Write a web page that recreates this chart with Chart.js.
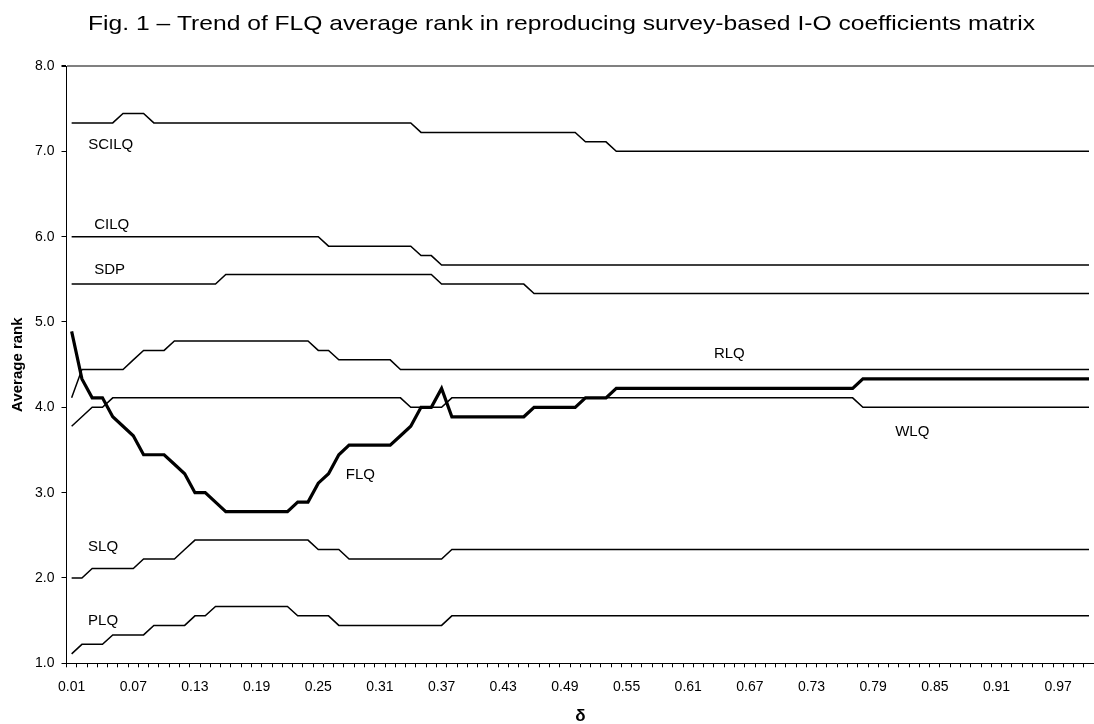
<!DOCTYPE html>
<html>
<head>
<meta charset="utf-8">
<script src="https://cdn.jsdelivr.net/npm/chart.js@4/dist/chart.umd.min.js"></script>
<style>
  html, body { margin: 0; padding: 0; background: #fff; overflow: hidden; }
  #wrap { width: 1100px; height: 724px; position: relative; }
</style>
</head>
<body>
<div id="wrap"><canvas id="c"></canvas></div>
<script>
const chartTitle = 'Fig. 1 \u2013 Trend of FLQ average rank in reproducing survey-based I-O coefficients matrix';

const categories = [
  '0.01','0.02','0.03','0.04','0.05','0.06','0.07','0.08','0.09','0.10',
  '0.11','0.12','0.13','0.14','0.15','0.16','0.17','0.18','0.19','0.20',
  '0.21','0.22','0.23','0.24','0.25','0.26','0.27','0.28','0.29','0.30',
  '0.31','0.32','0.33','0.34','0.35','0.36','0.37','0.38','0.39','0.40',
  '0.41','0.42','0.43','0.44','0.45','0.46','0.47','0.48','0.49','0.50',
  '0.51','0.52','0.53','0.54','0.55','0.56','0.57','0.58','0.59','0.60',
  '0.61','0.62','0.63','0.64','0.65','0.66','0.67','0.68','0.69','0.70',
  '0.71','0.72','0.73','0.74','0.75','0.76','0.77','0.78','0.79','0.80',
  '0.81','0.82','0.83','0.84','0.85','0.86','0.87','0.88','0.89','0.90',
  '0.91','0.92','0.93','0.94','0.95','0.96','0.97','0.98','0.99','1.00'
];

const xTickLabels = ['0.01','0.07','0.13','0.19','0.25','0.31','0.37','0.43','0.49','0.55','0.61','0.67','0.73','0.79','0.85','0.91','0.97'];
const yTickValues = [1, 2, 3, 4, 5, 6, 7, 8];

const SCILQ = [
  7.333,7.333,7.333,7.333,7.333,7.444,7.444,7.444,7.333,7.333,
  7.333,7.333,7.333,7.333,7.333,7.333,7.333,7.333,7.333,7.333,
  7.333,7.333,7.333,7.333,7.333,7.333,7.333,7.333,7.333,7.333,
  7.333,7.333,7.333,7.333,7.222,7.222,7.222,7.222,7.222,7.222,
  7.222,7.222,7.222,7.222,7.222,7.222,7.222,7.222,7.222,7.222,
  7.111,7.111,7.111,7.000,7.000,7.000,7.000,7.000,7.000,7.000,
  7.000,7.000,7.000,7.000,7.000,7.000,7.000,7.000,7.000,7.000,
  7.000,7.000,7.000,7.000,7.000,7.000,7.000,7.000,7.000,7.000,
  7.000,7.000,7.000,7.000,7.000,7.000,7.000,7.000,7.000,7.000,
  7.000,7.000,7.000,7.000,7.000,7.000,7.000,7.000,7.000,7.000
];

const CILQ = [
  6.000,6.000,6.000,6.000,6.000,6.000,6.000,6.000,6.000,6.000,
  6.000,6.000,6.000,6.000,6.000,6.000,6.000,6.000,6.000,6.000,
  6.000,6.000,6.000,6.000,6.000,5.889,5.889,5.889,5.889,5.889,
  5.889,5.889,5.889,5.889,5.778,5.778,5.667,5.667,5.667,5.667,
  5.667,5.667,5.667,5.667,5.667,5.667,5.667,5.667,5.667,5.667,
  5.667,5.667,5.667,5.667,5.667,5.667,5.667,5.667,5.667,5.667,
  5.667,5.667,5.667,5.667,5.667,5.667,5.667,5.667,5.667,5.667,
  5.667,5.667,5.667,5.667,5.667,5.667,5.667,5.667,5.667,5.667,
  5.667,5.667,5.667,5.667,5.667,5.667,5.667,5.667,5.667,5.667,
  5.667,5.667,5.667,5.667,5.667,5.667,5.667,5.667,5.667,5.667
];

const SDP = [
  5.444,5.444,5.444,5.444,5.444,5.444,5.444,5.444,5.444,5.444,
  5.444,5.444,5.444,5.444,5.444,5.556,5.556,5.556,5.556,5.556,
  5.556,5.556,5.556,5.556,5.556,5.556,5.556,5.556,5.556,5.556,
  5.556,5.556,5.556,5.556,5.556,5.556,5.444,5.444,5.444,5.444,
  5.444,5.444,5.444,5.444,5.444,5.333,5.333,5.333,5.333,5.333,
  5.333,5.333,5.333,5.333,5.333,5.333,5.333,5.333,5.333,5.333,
  5.333,5.333,5.333,5.333,5.333,5.333,5.333,5.333,5.333,5.333,
  5.333,5.333,5.333,5.333,5.333,5.333,5.333,5.333,5.333,5.333,
  5.333,5.333,5.333,5.333,5.333,5.333,5.333,5.333,5.333,5.333,
  5.333,5.333,5.333,5.333,5.333,5.333,5.333,5.333,5.333,5.333
];

const RLQ = [
  4.111,4.444,4.444,4.444,4.444,4.444,4.556,4.667,4.667,4.667,
  4.778,4.778,4.778,4.778,4.778,4.778,4.778,4.778,4.778,4.778,
  4.778,4.778,4.778,4.778,4.667,4.667,4.556,4.556,4.556,4.556,
  4.556,4.556,4.444,4.444,4.444,4.444,4.444,4.444,4.444,4.444,
  4.444,4.444,4.444,4.444,4.444,4.444,4.444,4.444,4.444,4.444,
  4.444,4.444,4.444,4.444,4.444,4.444,4.444,4.444,4.444,4.444,
  4.444,4.444,4.444,4.444,4.444,4.444,4.444,4.444,4.444,4.444,
  4.444,4.444,4.444,4.444,4.444,4.444,4.444,4.444,4.444,4.444,
  4.444,4.444,4.444,4.444,4.444,4.444,4.444,4.444,4.444,4.444,
  4.444,4.444,4.444,4.444,4.444,4.444,4.444,4.444,4.444,4.444
];

const WLQ = [
  3.778,3.889,4.000,4.000,4.111,4.111,4.111,4.111,4.111,4.111,
  4.111,4.111,4.111,4.111,4.111,4.111,4.111,4.111,4.111,4.111,
  4.111,4.111,4.111,4.111,4.111,4.111,4.111,4.111,4.111,4.111,
  4.111,4.111,4.111,4.000,4.000,4.000,4.000,4.111,4.111,4.111,
  4.111,4.111,4.111,4.111,4.111,4.111,4.111,4.111,4.111,4.111,
  4.111,4.111,4.111,4.111,4.111,4.111,4.111,4.111,4.111,4.111,
  4.111,4.111,4.111,4.111,4.111,4.111,4.111,4.111,4.111,4.111,
  4.111,4.111,4.111,4.111,4.111,4.111,4.111,4.000,4.000,4.000,
  4.000,4.000,4.000,4.000,4.000,4.000,4.000,4.000,4.000,4.000,
  4.000,4.000,4.000,4.000,4.000,4.000,4.000,4.000,4.000,4.000
];

const FLQ = [
  4.889,4.333,4.111,4.111,3.889,3.778,3.667,3.444,3.444,3.444,
  3.333,3.222,3.000,3.000,2.889,2.778,2.778,2.778,2.778,2.778,
  2.778,2.778,2.889,2.889,3.111,3.222,3.444,3.556,3.556,3.556,
  3.556,3.556,3.667,3.778,4.000,4.000,4.222,3.889,3.889,3.889,
  3.889,3.889,3.889,3.889,3.889,4.000,4.000,4.000,4.000,4.000,
  4.111,4.111,4.111,4.222,4.222,4.222,4.222,4.222,4.222,4.222,
  4.222,4.222,4.222,4.222,4.222,4.222,4.222,4.222,4.222,4.222,
  4.222,4.222,4.222,4.222,4.222,4.222,4.222,4.333,4.333,4.333,
  4.333,4.333,4.333,4.333,4.333,4.333,4.333,4.333,4.333,4.333,
  4.333,4.333,4.333,4.333,4.333,4.333,4.333,4.333,4.333,4.333
];

const SLQ = [
  2.000,2.000,2.111,2.111,2.111,2.111,2.111,2.222,2.222,2.222,
  2.222,2.333,2.444,2.444,2.444,2.444,2.444,2.444,2.444,2.444,
  2.444,2.444,2.444,2.444,2.333,2.333,2.333,2.222,2.222,2.222,
  2.222,2.222,2.222,2.222,2.222,2.222,2.222,2.333,2.333,2.333,
  2.333,2.333,2.333,2.333,2.333,2.333,2.333,2.333,2.333,2.333,
  2.333,2.333,2.333,2.333,2.333,2.333,2.333,2.333,2.333,2.333,
  2.333,2.333,2.333,2.333,2.333,2.333,2.333,2.333,2.333,2.333,
  2.333,2.333,2.333,2.333,2.333,2.333,2.333,2.333,2.333,2.333,
  2.333,2.333,2.333,2.333,2.333,2.333,2.333,2.333,2.333,2.333,
  2.333,2.333,2.333,2.333,2.333,2.333,2.333,2.333,2.333,2.333
];

const PLQ = [
  1.111,1.222,1.222,1.222,1.333,1.333,1.333,1.333,1.444,1.444,
  1.444,1.444,1.556,1.556,1.667,1.667,1.667,1.667,1.667,1.667,
  1.667,1.667,1.556,1.556,1.556,1.556,1.444,1.444,1.444,1.444,
  1.444,1.444,1.444,1.444,1.444,1.444,1.444,1.556,1.556,1.556,
  1.556,1.556,1.556,1.556,1.556,1.556,1.556,1.556,1.556,1.556,
  1.556,1.556,1.556,1.556,1.556,1.556,1.556,1.556,1.556,1.556,
  1.556,1.556,1.556,1.556,1.556,1.556,1.556,1.556,1.556,1.556,
  1.556,1.556,1.556,1.556,1.556,1.556,1.556,1.556,1.556,1.556,
  1.556,1.556,1.556,1.556,1.556,1.556,1.556,1.556,1.556,1.556,
  1.556,1.556,1.556,1.556,1.556,1.556,1.556,1.556,1.556,1.556
];

const seriesNames = ['SCILQ','CILQ','SDP','RLQ','WLQ','FLQ','SLQ','PLQ'];
const seriesValues = [SCILQ, CILQ, SDP, RLQ, WLQ, FLQ, SLQ, PLQ];

// in-chart series labels: text, category index, value
const labelNames = ['SCILQ','CILQ','SDP','RLQ','WLQ','FLQ','SLQ','PLQ'];
const labelAtIndex = [3.8, 3.9, 3.7, 64.0, 81.8, 28.1, 3.06, 3.06];
const labelAtValue = [7.08, 6.143, 5.608, 4.632, 3.714, 3.207, 2.368, 1.501];

const FONT = '"Liberation Sans", Arial, sans-serif';

const seriesLabelPlugin = {
  id: 'seriesLabels',
  afterDatasetsDraw(chart) {
    const ctx = chart.ctx, xs = chart.scales.x, ys = chart.scales.y;
    ctx.save();
    ctx.fillStyle = '#000';
    ctx.font = '15px ' + FONT;
    ctx.textAlign = 'center';
    ctx.textBaseline = 'middle';
    labelNames.forEach((t, i) => {
      ctx.fillText(t, xs.getPixelForValue(labelAtIndex[i]), ys.getPixelForValue(labelAtValue[i]));
    });
    ctx.restore();
  }
};

const titlePlugin = {
  id: 'figTitle',
  afterDraw(chart) {
    const ctx = chart.ctx;
    ctx.save();
    ctx.fillStyle = '#000';
    ctx.font = '21px ' + FONT;
    ctx.textAlign = 'center';
    ctx.textBaseline = 'middle';
    const w = ctx.measureText(chartTitle).width;
    const sx = 947 / w;
    ctx.translate(561.5, 24);
    ctx.scale(sx, 1);
    ctx.fillText(chartTitle, 0, 0);
    ctx.restore();
  }
};

const datasets = seriesNames.map((n, i) => ({
  label: n,
  data: seriesValues[i],
  borderColor: '#000',
  backgroundColor: '#000',
  borderWidth: n === 'FLQ' ? 3.2 : 1.5,
  pointRadius: 0,
  tension: 0,
  fill: false
}));

new Chart(document.getElementById('c'), {
  type: 'line',
  data: { labels: categories, datasets },
  plugins: [seriesLabelPlugin, titlePlugin],
  options: {
    responsive: true,
    maintainAspectRatio: false,
    animation: false,
    devicePixelRatio: 1,
    layout: { padding: { top: 66, right: 0.5, left: 0, bottom: 0 } },
    plugins: { legend: { display: false }, tooltip: { enabled: false }, title: { display: false } },
    scales: {
      x: {
        type: 'category',
        offset: true,
        afterFit(s) { s.height = 60.7; },
        grid: { offset: true, drawOnChartArea: false, drawTicks: true, tickLength: 4, color: '#000', tickColor: '#000' },
        border: { display: true, color: '#000', width: 1 },
        ticks: {
          autoSkip: false, maxRotation: 0, minRotation: 0, padding: 11,
          color: '#000', font: { family: FONT, size: 14 },
          callback(v, i) { const l = categories[i]; return xTickLabels.includes(l) ? l : ''; }
        },
        title: { display: true, text: '\u03b4', color: '#000', font: { family: FONT, size: 17, weight: 'bold', lineHeight: 0.86 }, padding: { top: 0, bottom: 0 } }
      },
      y: {
        min: 1, max: 8,
        afterFit(s) { s.width = 66.5; },
        afterBuildTicks(s) { s.ticks = yTickValues.map(v => ({ value: v })); },
        grid: {
          drawOnChartArea: true, drawTicks: true, tickLength: 5, tickColor: '#000',
          color: (c) => (c.tick && c.tick.value === 8 ? '#808080' : 'rgba(0,0,0,0)'),
          lineWidth: (c) => (c.tick && c.tick.value === 8 ? 2 : 1)
        },
        border: { display: true, color: '#000', width: 1 },
        ticks: {
          padding: 7, color: '#000', font: { family: FONT, size: 14 },
          callback(v) { return Number(v).toFixed(1); }
        },
        title: { display: true, text: 'Average rank', color: '#000', font: { family: FONT, size: 15, weight: 'bold', lineHeight: 1.2 }, padding: { top: 8.5, bottom: 0 } }
      }
    }
  }
});
</script>
</body>
</html>
